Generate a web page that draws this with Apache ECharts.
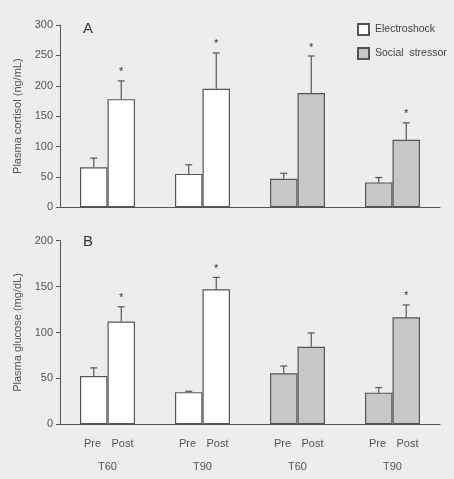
<!DOCTYPE html>
<html>
<head>
<meta charset="utf-8">
<script src="https://cdn.jsdelivr.net/npm/echarts@6/dist/echarts.min.js"></script>
<style>
  html, body { margin: 0; padding: 0; background: #ededed; }
  #chart { width: 454px; height: 479px; }
</style>
</head>
<body>
<div id="chart"></div>
<script>
// groups along the x axis
var groups = ['T60', 'T90', 'T60', 'T90'];
var socialFrom = 2; // groups 0-1 electroshock, 2-3 social stressor

// panel A: plasma cortisol (ng/mL)
var cortisolPre = [66, 55, 47, 41];
var cortisolPreErr = [81, 70, 56, 49];
var cortisolPost = [178, 195, 188, 111];
var cortisolPostErr = [208, 254, 249, 139];
var cortisolStar = [true, true, true, true];

// panel B: plasma glucose (mg/dL)
var glucosePre = [52.5, 35, 55.5, 34.5];
var glucosePreErr = [61.5, 36, 63.5, 40];
var glucosePost = [112, 147, 84.5, 116.5];
var glucosePostErr = [128, 160, 99.5, 130];
var glucoseStar = [true, true, false, true];

var WHITE = '#ffffff';
var GRAY = '#c6c7c9';
var LINE = '#555555';
var TEXT = '#555555';
var BAR_W = 27.5;

function split(values, social) {
    return values.map(function(v, i) {
        return (i >= socialFrom) === social ? v : null;
    });
}

function barSeries(idx, values, stack, social) {
    return {
        type: 'bar',
        name: social ? 'Social  stressor' : 'Electroshock',
        xAxisIndex: idx,
        yAxisIndex: idx,
        stack: stack + idx,
        data: split(values, social),
        barWidth: BAR_W,
        barGap: '0%',
        itemStyle: {
            color: social ? GRAY : WHITE,
            borderColor: LINE,
            borderWidth: 1.2
        },
        silent: true
    };
}

function errSeries(idx, pre, preErr, post, postErr, stars) {
    var data = [];
    for (var i = 0; i < groups.length; i++) {
        data.push([i, pre[i], preErr[i], -1, 0]);
        data.push([i, post[i], postErr[i], 1, stars[i] ? 1 : 0]);
    }
    return {
        type: 'custom',
        xAxisIndex: idx,
        yAxisIndex: idx,
        data: data,
        silent: true,
        z: 1,
        renderItem: function(params, api) {
            var c = api.coord([api.value(0), api.value(1)]);
            var top = api.coord([api.value(0), api.value(2)]);
            var x = c[0] + api.value(3) * BAR_W / 2;
            var children = [
                { type: 'line', shape: { x1: x, y1: c[1], x2: x, y2: top[1] },
                  style: { stroke: LINE, lineWidth: 1.2 } },
                { type: 'line', shape: { x1: x - 3.5, y1: top[1], x2: x + 3.5, y2: top[1] },
                  style: { stroke: LINE, lineWidth: 1.2 } }
            ];
            if (api.value(4)) {
                children.push({
                    type: 'text', x: x, y: top[1] - 3,
                    style: { text: '*', fill: '#333', font: '11px "Liberation Sans"',
                             align: 'center', verticalAlign: 'bottom' }
                });
            }
            return { type: 'group', children: children };
        }
    };
}

function xAxis(idx, labels) {
    return {
        type: 'category',
        gridIndex: idx,
        data: groups,
        axisLine: { lineStyle: { color: LINE, width: 1 } },
        axisTick: { length: 4, lineStyle: { color: LINE } },
        axisLabel: labels ? {
            interval: 0,
            margin: 11,
            formatter: function(v) { return '{p|Pre}{q|Post}\n{g|' + v + '}'; },
            rich: {
                p: { width: 30, align: 'center', fontSize: 11, color: TEXT, lineHeight: 17 },
                q: { width: 30, align: 'center', fontSize: 11, color: TEXT, lineHeight: 17 },
                g: { fontSize: 11, color: TEXT, lineHeight: 29 }
            }
        } : { show: false }
    };
}

function yAxis(idx, max, name) {
    return {
        type: 'value',
        gridIndex: idx,
        min: 0,
        max: max,
        interval: 50,
        name: name,
        nameLocation: 'middle',
        nameGap: 36,
        nameTextStyle: { color: TEXT, fontSize: 11 },
        axisLine: { show: true, lineStyle: { color: LINE, width: 1 } },
        axisTick: { show: true, length: 4, lineStyle: { color: LINE } },
        axisLabel: { color: TEXT, fontSize: 11, margin: 7 },
        splitLine: { show: false }
    };
}

var chart = echarts.init(document.getElementById('chart'));
chart.setOption({
    backgroundColor: '#ededed',
    animation: false,
    textStyle: { fontFamily: '"Liberation Sans", Arial, sans-serif' },
    grid: [
        { left: 60, right: 14, top: 25, height: 182.3 },
        { left: 60, right: 14, top: 240.7, height: 183.6 }
    ],
    legend: {
        orient: 'vertical',
        left: 357,
        top: 23,
        padding: 0,
        itemWidth: 11,
        itemHeight: 11,
        itemGap: 11,
        icon: 'rect',
        textStyle: { color: '#444', fontSize: 10.5, padding: [0, 0, 0, 1] },
        data: ['Electroshock', 'Social  stressor']
    },
    xAxis: [xAxis(0, false), xAxis(1, true)],
    yAxis: [
        yAxis(0, 300, 'Plasma cortisol (ng/mL)'),
        yAxis(1, 200, 'Plasma glucose (mg/dL)')
    ],
    graphic: [
        { type: 'text', left: 83, top: 21, style: { text: 'A', fill: '#333', font: '15px "Liberation Sans"' } },
        { type: 'text', left: 83, top: 234, style: { text: 'B', fill: '#333', font: '15px "Liberation Sans"' } }
    ],
    series: [
        barSeries(0, cortisolPre, 'pre', false),
        barSeries(0, cortisolPre, 'pre', true),
        barSeries(0, cortisolPost, 'post', false),
        barSeries(0, cortisolPost, 'post', true),
        errSeries(0, cortisolPre, cortisolPreErr, cortisolPost, cortisolPostErr, cortisolStar),
        barSeries(1, glucosePre, 'pre', false),
        barSeries(1, glucosePre, 'pre', true),
        barSeries(1, glucosePost, 'post', false),
        barSeries(1, glucosePost, 'post', true),
        errSeries(1, glucosePre, glucosePreErr, glucosePost, glucosePostErr, glucoseStar)
    ]
});
</script>
</body>
</html>
